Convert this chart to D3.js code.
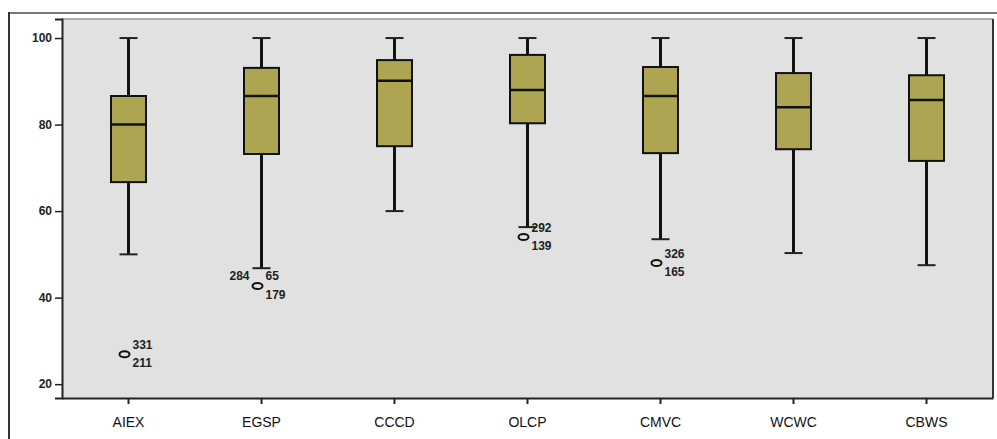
<!DOCTYPE html>
<html>
<head>
<meta charset="utf-8">
<script src="https://cdn.jsdelivr.net/npm/d3@7"></script>
<style>
  body { margin: 0; background: #fff; }
  svg { display: block; font-family: Arial, "Liberation Sans", sans-serif; }
</style>
</head>
<body>
<svg id="chart" width="997" height="439"></svg>
<script>
var categories = ["AIEX", "EGSP", "CCCD", "OLCP", "CMVC", "WCWC", "CBWS"];
var whiskerHigh = [100, 100, 100, 100, 100, 100, 100];
var q3 = [86.6, 93.1, 94.9, 96.1, 93.3, 91.9, 91.4];
var median = [80.0, 86.6, 90.1, 88.0, 86.6, 84.0, 85.7];
var q1 = [66.7, 73.2, 75.0, 80.3, 73.4, 74.3, 71.6];
var whiskerLow = [50.0, 46.8, 60.0, 56.3, 53.5, 50.3, 47.5];
var outlierCat = ["AIEX", "EGSP", "OLCP", "CMVC"];
var outlierVal = [26.9, 42.7, 54.0, 48.0];
var outlierTop = [["331"], ["284", "65"], ["292"], ["326"]];
var outlierBottom = ["211", "179", "139", "165"];
var yTicks = [20, 40, 60, 80, 100];

var svg = d3.select("#chart");
var plot = { left: 62, top: 19, right: 993, bottom: 398 };

// outer frame
svg.append("line").attr("x1", 9).attr("y1", 13).attr("x2", 997).attr("y2", 13)
  .attr("stroke", "#777").attr("stroke-width", 2);
svg.append("line").attr("x1", 9).attr("y1", 12).attr("x2", 9).attr("y2", 439)
  .attr("stroke", "#333").attr("stroke-width", 2);

var x = d3.scaleBand().domain(categories).range([plot.left, plot.right]);
var y = d3.scaleLinear().domain([16.8, 104.4]).range([plot.bottom, plot.top]);

// plot background
svg.append("rect")
  .attr("x", plot.left).attr("y", plot.top)
  .attr("width", plot.right - plot.left).attr("height", plot.bottom - plot.top)
  .attr("fill", "#e1e1e1");
svg.append("line").attr("x1", plot.left).attr("y1", plot.top).attr("x2", plot.right).attr("y2", plot.top)
  .attr("stroke", "#999").attr("stroke-width", 1.5);
svg.append("line").attr("x1", plot.right).attr("y1", plot.top).attr("x2", plot.right).attr("y2", plot.bottom)
  .attr("stroke", "#333").attr("stroke-width", 2);

// axes
var yAxis = d3.axisLeft(y).tickValues(yTicks).tickSize(7).tickPadding(3);
var gy = svg.append("g").attr("transform", "translate(" + plot.left + ",0)").call(yAxis);
gy.select(".domain").attr("stroke", "#222").attr("stroke-width", 2);
gy.selectAll(".tick line").attr("stroke", "#222").attr("stroke-width", 1.5);
gy.selectAll(".tick text").attr("font-size", 12).attr("font-weight", "bold").attr("fill", "#222");

var xAxis = d3.axisBottom(x).tickSize(6).tickPadding(13).tickSizeOuter(0);
var gx = svg.append("g").attr("transform", "translate(0," + plot.bottom + ")").call(xAxis);
gx.select(".domain").attr("stroke", "#222").attr("stroke-width", 2);
gx.selectAll(".tick line").attr("stroke", "#222").attr("stroke-width", 2);
gx.selectAll(".tick text").attr("font-size", 14).attr("fill", "#111");

// boxes
var boxW = 35, capW = 18;
var boxes = svg.append("g").selectAll("g").data(categories).enter().append("g")
  .attr("transform", function (d) { return "translate(" + (x(d) + x.bandwidth() / 2) + ",0)"; });

boxes.append("line")
  .attr("x1", 0).attr("x2", 0)
  .attr("y1", function (d, i) { return y(whiskerHigh[i]); })
  .attr("y2", function (d, i) { return y(whiskerLow[i]); })
  .attr("stroke", "#111").attr("stroke-width", 3);
boxes.append("line")
  .attr("x1", -capW / 2).attr("x2", capW / 2)
  .attr("y1", function (d, i) { return y(whiskerHigh[i]); })
  .attr("y2", function (d, i) { return y(whiskerHigh[i]); })
  .attr("stroke", "#222").attr("stroke-width", 2);
boxes.append("line")
  .attr("x1", -capW / 2).attr("x2", capW / 2)
  .attr("y1", function (d, i) { return y(whiskerLow[i]); })
  .attr("y2", function (d, i) { return y(whiskerLow[i]); })
  .attr("stroke", "#222").attr("stroke-width", 2);
boxes.append("rect")
  .attr("x", -boxW / 2).attr("width", boxW)
  .attr("y", function (d, i) { return y(q3[i]); })
  .attr("height", function (d, i) { return y(q1[i]) - y(q3[i]); })
  .attr("fill", "#aea553").attr("stroke", "#111").attr("stroke-width", 2);
boxes.append("line")
  .attr("x1", -boxW / 2).attr("x2", boxW / 2)
  .attr("y1", function (d, i) { return y(median[i]); })
  .attr("y2", function (d, i) { return y(median[i]); })
  .attr("stroke", "#111").attr("stroke-width", 2.5);

// outliers
var outs = svg.append("g").selectAll("g").data(outlierCat).enter().append("g")
  .attr("transform", function (d, i) {
    return "translate(" + (x(d) + x.bandwidth() / 2 - 4) + "," + y(outlierVal[i]) + ")";
  });
outs.append("ellipse").attr("rx", 5).attr("ry", 3)
  .attr("fill", "none").attr("stroke", "#111").attr("stroke-width", 2);
outs.each(function (d, i) {
  var g = d3.select(this);
  var top = outlierTop[i];
  if (top.length == 2) {
    g.append("text").attr("x", -8).attr("y", -6).attr("text-anchor", "end").text(top[0]);
    g.append("text").attr("x", 8).attr("y", -6).text(top[1]);
  } else {
    g.append("text").attr("x", 8).attr("y", -5).text(top[0]);
  }
  g.append("text").attr("x", 8).attr("y", 13).text(outlierBottom[i]);
});
outs.selectAll("text").attr("font-size", 12).attr("font-weight", "bold").attr("fill", "#222");
</script>
</body>
</html>
